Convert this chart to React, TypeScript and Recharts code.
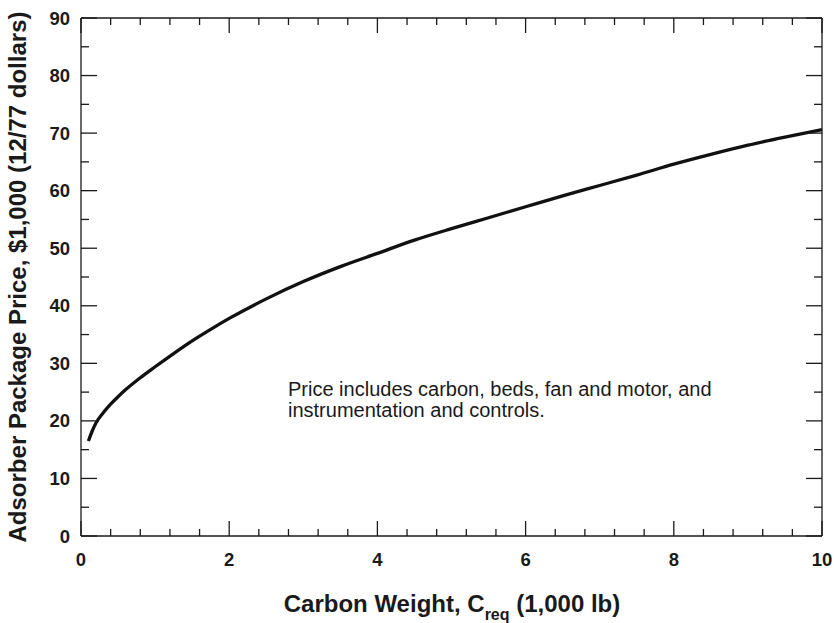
import { LineChart, Line, XAxis, YAxis } from "recharts";

// values
const carbonWeight = [0.1, 0.15, 0.2, 0.3, 0.4, 0.5, 0.6, 0.8, 1, 1.25, 1.5, 1.75, 2, 2.5, 3, 3.5, 4, 4.5, 5, 5.5, 6, 6.5, 7, 7.5, 8, 8.5, 9, 9.5, 10];
const price = [16.5, 18.2, 19.6, 21.4, 22.9, 24.2, 25.4, 27.5, 29.4, 31.7, 33.9, 35.9, 37.8, 41.2, 44.2, 46.8, 49.1, 51.4, 53.4, 55.3, 57.2, 59.1, 60.9, 62.7, 64.6, 66.3, 67.9, 69.3, 70.6];

const xTicks = [0, 0.4, 0.8, 1.2, 1.6, 2, 2.4, 2.8, 3.2, 3.6, 4, 4.4, 4.8, 5.2, 5.6, 6, 6.4, 6.8, 7.2, 7.6, 8, 8.4, 8.8, 9.2, 9.6, 10];
const yTicks = [0, 5, 10, 15, 20, 25, 30, 35, 40, 45, 50, 55, 60, 65, 70, 75, 80, 85, 90];

const data = carbonWeight.map((c, i) => ({ c, p: price[i] }));

const FONT = '"Liberation Sans", Arial, Helvetica, sans-serif';
const INK = "#1a1a1a";

const isMultiple = (v: number, step: number) => Math.abs(v / step - Math.round(v / step)) < 1e-6;

function BottomTick({ x, y, payload }: any) {
  const major = isMultiple(payload.value, 2);
  return (
    <g>
      <line x1={x} y1={y} x2={x} y2={y - (major ? 15 : 7)} stroke={INK} strokeWidth={1.3} />
      {major && (
        <text x={x} y={y + 30} textAnchor="middle" fontFamily={FONT} fontWeight="bold" fontSize={18.5} fill={INK}>
          {Math.round(payload.value)}
        </text>
      )}
    </g>
  );
}

function TopTick({ x, y, payload }: any) {
  const major = isMultiple(payload.value, 2);
  return <line x1={x} y1={y} x2={x} y2={y + (major ? 15 : 7)} stroke={INK} strokeWidth={1.3} />;
}

function LeftTick({ x, y, payload }: any) {
  const major = isMultiple(payload.value, 10);
  return (
    <g>
      <line x1={x} y1={y} x2={x + (major ? 16 : 8)} y2={y} stroke={INK} strokeWidth={1.3} />
      {major && (
        <text x={x - 11} y={y + 6.5} textAnchor="end" fontFamily={FONT} fontWeight="bold" fontSize={18.5} fill={INK}>
          {payload.value}
        </text>
      )}
    </g>
  );
}

function RightTick({ x, y, payload }: any) {
  const major = isMultiple(payload.value, 10);
  return <line x1={x} y1={y} x2={x - (major ? 16 : 8)} y2={y} stroke={INK} strokeWidth={1.3} />;
}

export default function App() {
  return (
    <div style={{ position: "absolute", left: 0, top: 0, width: 834, height: 623, background: "#fff" }}>
      <LineChart width={834} height={623} data={data} margin={{ top: 17, right: 11, left: 0, bottom: 0 }}>
        <XAxis
          xAxisId="b"
          dataKey="c"
          type="number"
          domain={[0, 10]}
          ticks={xTicks}
          interval={0}
          height={87}
          tickSize={0}
          tickMargin={0}
          tickLine={false}
          tick={<BottomTick />}
          axisLine={{ stroke: INK, strokeWidth: 1.3 }}
        />
        <XAxis
          xAxisId="t"
          orientation="top"
          dataKey="c"
          type="number"
          domain={[0, 10]}
          ticks={xTicks}
          interval={0}
          height={1}
          tickSize={0}
          tickMargin={0}
          tickLine={false}
          tick={<TopTick />}
          axisLine={{ stroke: INK, strokeWidth: 1.3 }}
        />
        <YAxis
          yAxisId="l"
          type="number"
          domain={[0, 90]}
          ticks={yTicks}
          interval={0}
          width={81}
          tickSize={0}
          tickMargin={0}
          tickLine={false}
          tick={<LeftTick />}
          axisLine={{ stroke: INK, strokeWidth: 1.3 }}
        />
        <YAxis
          yAxisId="r"
          orientation="right"
          type="number"
          domain={[0, 90]}
          ticks={yTicks}
          interval={0}
          width={1}
          tickSize={0}
          tickMargin={0}
          tickLine={false}
          tick={<RightTick />}
          axisLine={{ stroke: INK, strokeWidth: 1.3 }}
        />
        <Line
          xAxisId="t"
          yAxisId="r"
          dataKey="p"
          stroke="transparent"
          strokeWidth={0}
          dot={false}
          activeDot={false}
          isAnimationActive={false}
        />
        <Line
          xAxisId="b"
          yAxisId="l"
          type="monotone"
          dataKey="p"
          stroke="#111"
          strokeWidth={3.3}
          dot={false}
          activeDot={false}
          isAnimationActive={false}
        />
      </LineChart>
      <svg
        width={834}
        height={623}
        style={{ position: "absolute", left: 0, top: 0, pointerEvents: "none" }}
      >
        <text
          transform="translate(26, 277) rotate(-90)"
          textAnchor="middle"
          fontFamily={FONT}
          fontWeight="bold"
          fontSize={24}
          fill={INK}
        >
          Adsorber Package Price, $1,000 (12/77 dollars)
        </text>
        <text x={452} y={612} textAnchor="middle" fontFamily={FONT} fontWeight="bold" fontSize={24} fill={INK}>
          Carbon Weight, C
          <tspan fontSize={16} dy={8}>req</tspan>
          <tspan dy={-8}> (1,000 lb)</tspan>
        </text>
        <text fontFamily={FONT} fontSize={20} fill={INK}>
          <tspan x={288} y={396}>Price includes carbon, beds, fan and motor, and</tspan>
          <tspan x={288} y={417}>instrumentation and controls.</tspan>
        </text>
      </svg>
    </div>
  );
}
